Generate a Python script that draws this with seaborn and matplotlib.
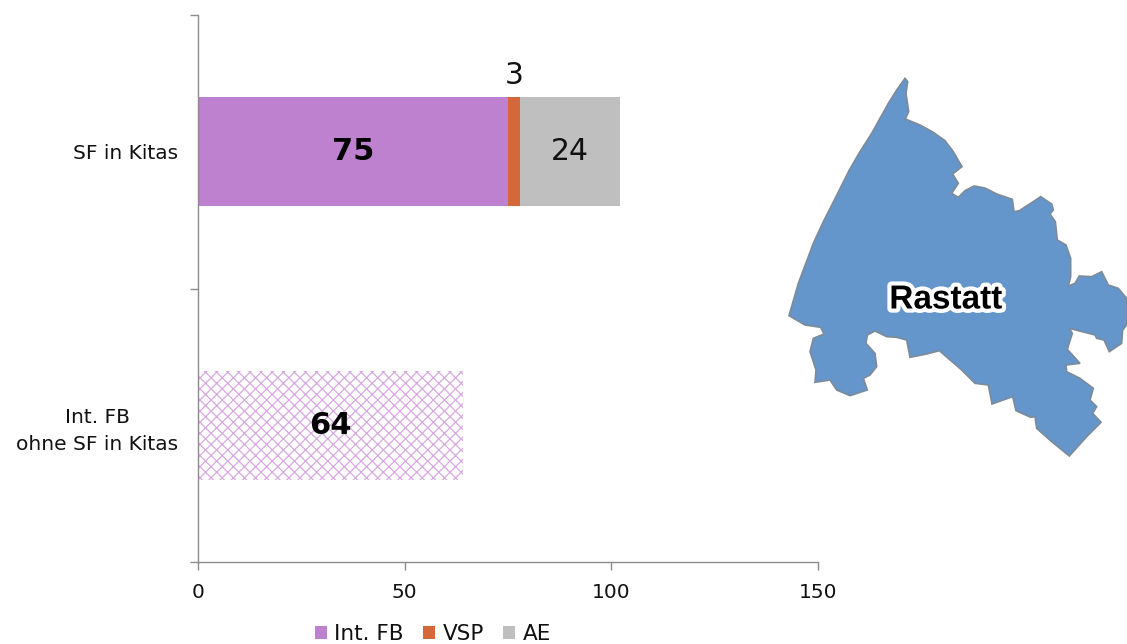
import numpy as np
import pandas as pd
import matplotlib.pyplot as plt
import matplotlib.patheffects as pe
from matplotlib.patches import Polygon
import seaborn as sns

categories = ['SF in Kitas', 'Int. FB\nohne SF in Kitas']
int_fb = [75, 64]
vsp = [3, 0]
ae = [24, 0]
x_ticks = [0, 50, 100, 150]

# outline of the district (pixels of the 3x crop)
map_outline = [(375,25),(383,35),(378,70),(386,125),(376,147),(420,165),(460,187),(495,212),
    (520,245),(546,290),(518,312),(535,340),(515,370),(535,382),(555,362),(582,348),(615,354),
    (650,372),(697,388),(702,425),(718,422),(755,398),(782,380),(815,402),(820,420),(810,432),
    (826,455),(832,510),(858,525),(872,565),(872,620),(865,648),(885,640),(898,618),(935,620),
    (965,605),(985,645),(1015,655),(1040,685),(1040,765),(1028,780),(1025,820),(988,845),
    (972,810),(950,805),(945,795),(868,775),(877,790),(862,838),(900,880),(858,885),(860,905),
    (900,925),(940,955),(930,990),(950,1010),(938,1030),(963,1057),(920,1100),(868,1158),
    (815,1115),(770,1075),(765,1040),(752,1042),(708,1022),(698,980),(636,1002),(625,945),
    (585,940),(545,900),(478,842),(440,852),(390,862),(380,810),(350,802),(320,800),(285,783),
    (262,795),(258,820),(285,850),(290,890),(270,915),(250,925),(262,960),(210,977),(170,960),
    (150,930),(105,937),(108,900),(90,845),(100,805),(132,792),(122,772),(75,765),(27,737),
    (55,640),(100,520),(130,455),(158,400),(208,300),(240,245),(275,190),(325,100),(350,60)]

sns.set_theme(style='white')
plt.rcParams['font.family'] = ['DejaVu Sans']
plt.rcParams['hatch.linewidth'] = 0.9
plt.rcParams['hatch.color'] = '#d8a9e0'

W, H = 1127, 644
fig = plt.figure(figsize=(W / 100, H / 100), dpi=100)
ax = fig.add_axes([198 / W, 1 - 562 / H, 620 / W, 547 / H])

df = pd.DataFrame({'cat': categories, 'Int. FB': int_fb, 'VSP': vsp, 'AE': ae})
lefts = np.zeros(len(df))
for name, col in [('Int. FB', '#bd81cf'), ('VSP', '#d4683a'), ('AE', '#bfbfbf')]:
    sns.barplot(data=df, y='cat', x=name, ax=ax, color=col, saturation=1, width=0.4,
                left=lefts, linewidth=0, orient='y')
    lefts = lefts + df[name].values

# second bar of Int. FB is hatched
hatched = ax.containers[0][1]
hatched.set_facecolor('white')
hatched.set_hatch('xxx')
hatched.set_edgecolor('#d8a9e0')
hatched.set_linewidth(0)

ax.bar_label(ax.containers[0], labels=[str(v) for v in int_fb], label_type='center',
             fontsize=22, fontweight='bold', color='black')
ax.bar_label(ax.containers[2], labels=[str(ae[0]), ''], label_type='center',
             fontsize=21.5, color='#111111')
ax.text(int_fb[0] + vsp[0] / 2, -0.28, str(vsp[0]), ha='center', va='center',
        fontsize=21.5, color='#111111')

ax.set_xlim(0, 150)
ax.set_ylim(1.5, -0.5)
ax.set_xticks(x_ticks)
ax.set_yticks([-0.5, 0.5, 1.5])
ax.set_yticklabels([])
ax.set_yticks([0, 1], labels=categories, minor=True, multialignment='center', linespacing=1.55)
ax.set_xlabel('')
ax.set_ylabel('')
ax.tick_params(axis='x', which='major', length=6, width=1, color='#8c8c8c', labelsize=14.5,
               bottom=True, pad=9, labelcolor='#111111')
ax.tick_params(axis='y', which='major', length=6, width=1, color='#8c8c8c', left=True)
ax.tick_params(axis='y', which='minor', length=0, pad=14, labelsize=14.5, labelcolor='#111111')
sns.despine(ax=ax)
for s in ['left', 'bottom']:
    ax.spines[s].set_color('#8c8c8c')
    ax.spines[s].set_linewidth(1)

handles = [c[0] for c in ax.containers]
fig.legend(handles, ['Int. FB', 'VSP', 'AE'], ncol=3, loc='center', frameon=False,
           bbox_to_anchor=(433 / W, 1 - 634 / H), fontsize=15.5, handlelength=0.55,
           handleheight=0.55, handletextpad=0.35, columnspacing=0.9, labelcolor='#111111',
           borderpad=0)

# map inset, drawn in picture pixels
mp = fig.add_axes([0, 0, 1, 1], zorder=3)
mp.set_xlim(0, W)
mp.set_ylim(H, 0)
mp.axis('off')
mp.patch.set_alpha(0)
pts = [(780 + x / 3, 70 + y / 3) for x, y in map_outline]
mp.add_patch(Polygon(pts, closed=True, facecolor='#6496cc', edgecolor='#7d8b99', linewidth=1.2))
mp.text(946, 300, 'Rastatt', ha='center', va='center', fontsize=24, fontweight='bold',
        family='Liberation Sans', color='black',
        path_effects=[pe.withStroke(linewidth=6, foreground='white')])

fig.savefig('out.png', dpi=100)
